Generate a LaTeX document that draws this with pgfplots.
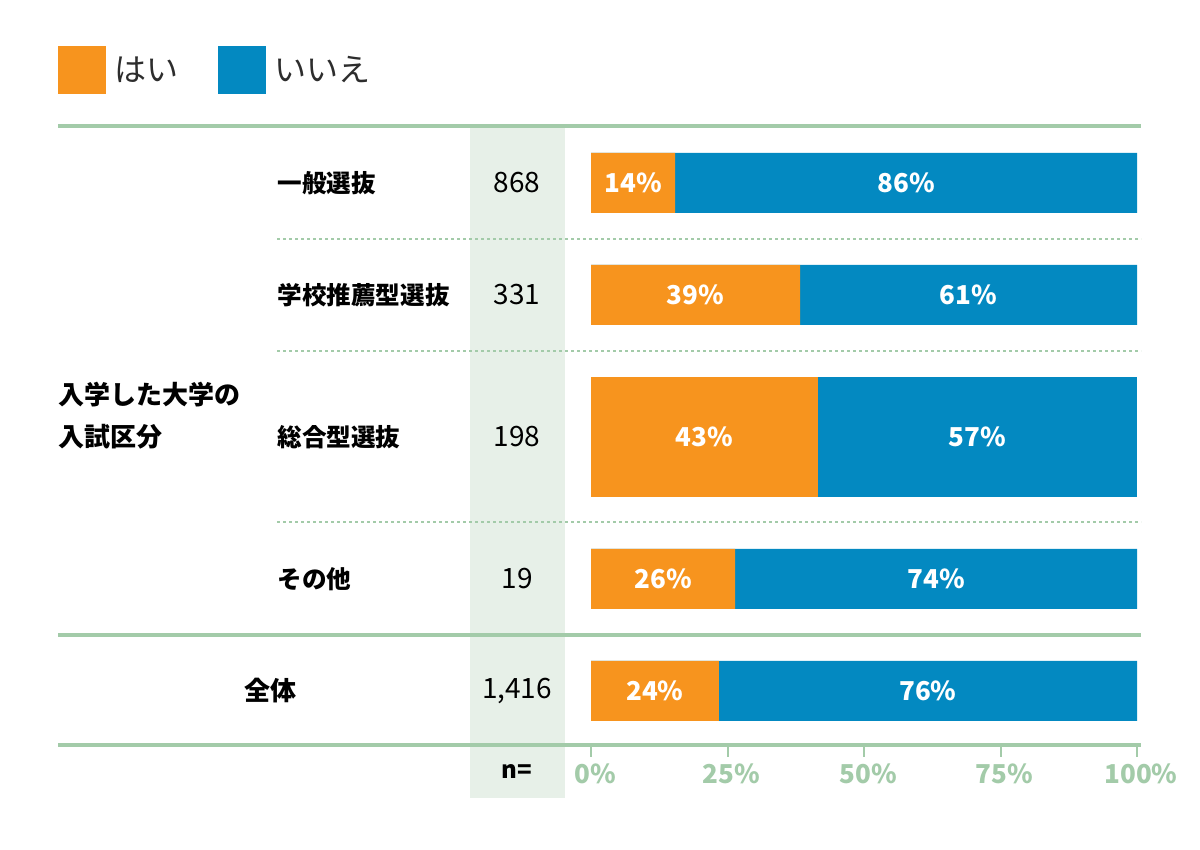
\documentclass[border=0pt]{standalone}
\usepackage{fontspec}
\setmainfont{Noto Sans CJK JP}
\usepackage{pgfplots}
\pgfplotsset{compat=1.18}
\definecolor{orng}{RGB}{247,148,30}
\definecolor{blu}{RGB}{3,137,193}
\definecolor{grn}{RGB}{163,203,169}
\definecolor{bandc}{RGB}{231,240,232}
\definecolor{txt}{RGB}{45,45,45}
\begin{document}
\begin{tikzpicture}
\path[use as bounding box, fill=white] (0,0) rectangle (600pt,425pt);
\begin{scope}[x=0.5pt,y=0.5pt]
% n band
\fill[bandc] (470,52) rectangle (565,725);
% legend
\fill[orng] (58,756) rectangle (106,804);
\fill[blu] (218,756) rectangle (266,804);
\node[anchor=west, inner sep=0pt, font=\fontsize{16}{16}\selectfont, text=txt] at (114,780) {はい};
\node[anchor=west, inner sep=0pt, font=\fontsize{16}{16}\selectfont, text=txt] at (274,780) {いいえ};
% solid lines
\draw[grn, line width=2pt] (58,724) -- (1141,724);
\draw[grn, line width=2pt] (58,215) -- (1141,215);
\draw[grn, line width=2pt] (58,105) -- (1141,105);
% dotted lines
\foreach \yy in {611,499,328}
  \draw[grn, line width=1.3pt, dash pattern=on 1.3pt off 1.7pt] (277,\yy) -- (1141,\yy);
% left labels
\node[anchor=west, inner sep=0pt, align=left, font=\bfseries\fontsize{13}{21}\selectfont] at (58,434) {入学した大学の\\入試区分};
\foreach \yy/\lab in {667/一般選抜,555/学校推薦型選抜,413/総合型選抜,271/その他}
  \node[anchor=west, inner sep=0pt, font=\bfseries\fontsize{12.3}{12}\selectfont] at (277,\yy) {\lab};
\node[inner sep=0pt, font=\bfseries\fontsize{13}{13}\selectfont] at (270,159) {全体};
% n values
\foreach \yy/\lab in {667/868,555/331,413/198,271/19,159/{1,416}}
  \node[inner sep=0pt, font=\fontsize{14}{14}\selectfont] at (517,\yy) {\lab};
\node[inner sep=0pt, font=\bfseries\fontsize{12}{12}\selectfont] at (517,78) {n=};
\end{scope}
\begin{axis}[
  at={(295.5pt,52.5pt)}, anchor=south west,
  width=273pt, height=310pt, scale only axis,
  xmin=0, xmax=100, ymin=105, ymax=725,
  clip=false,
  hide y axis,
  axis x line=bottom,
  axis line style={draw=none},
  xtick={0,25,50,75,100},
  xticklabels={0\%,25\%,50\%,75\%,100\%},
  tick align=outside,
  major tick length=6pt,
  xtick style={grn, line width=1pt},
  xticklabel style={font=\bfseries\fontsize{13}{13}\selectfont, text=grn, xshift=2pt},
]
% blue full bars
\addplot[xbar, bar width=60, bar shift=0pt, fill=blu, draw=none] coordinates {(100,667) (100,555) (100,271) (100,159)};
\addplot[xbar, bar width=120, bar shift=0pt, fill=blu, draw=none] coordinates {(100,413)};
% orange bars
\addplot[xbar, bar width=60, bar shift=0pt, fill=orng, draw=none] coordinates {(15.4,667) (38.3,555) (26.4,271) (23.4,159)};
\addplot[xbar, bar width=120, bar shift=0pt, fill=orng, draw=none] coordinates {(41.6,413)};
% value labels
\addplot[draw=none, mark=none, nodes near coords, point meta=explicit symbolic,
  nodes near coords align=center,
  every node near coord/.append style={anchor=center, text=white, font=\bfseries\fontsize{13}{13}\selectfont}]
  table[meta=lab] {
x y lab
7.7 667 14\%
57.7 667 86\%
19.15 555 39\%
69.15 555 61\%
20.8 413 43\%
70.8 413 57\%
13.2 271 26\%
63.2 271 74\%
11.7 159 24\%
61.7 159 76\%
};
\end{axis}
\end{tikzpicture}
\end{document}
